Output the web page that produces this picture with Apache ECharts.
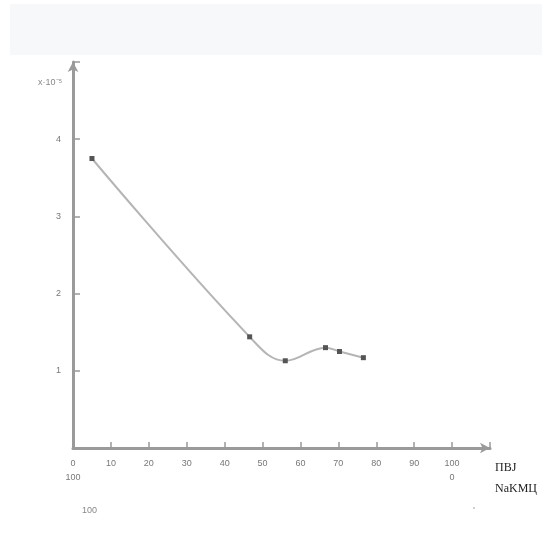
<!DOCTYPE html>
<html><head><meta charset="utf-8">
<script src="https://cdn.jsdelivr.net/npm/echarts@6/dist/echarts.min.js"></script>
<style>html,body{margin:0;padding:0;background:#fff}#c{width:542px;height:538px}</style>
</head><body><div id="c"></div>
<script>
const xValues = [5, 46.6, 56, 66.6, 70.3, 76.6];
const yValues = [3.75, 1.44, 1.13, 1.30, 1.25, 1.17];
const xTickLabels = {0: '0\n100', 10: '10', 20: '20', 30: '30', 40: '40', 50: '50', 60: '60', 70: '70', 80: '80', 90: '90', 100: '100\n0'};
const yTickLabels = {1: '1', 2: '2', 3: '3', 4: '4'};

const chart = echarts.init(document.getElementById('c'));
chart.setOption({
  animation: false,
  backgroundColor: '#fff',
  grid: {left: 73, right: 52, top: 62, bottom: 90},
  xAxis: {
    type: 'value', min: 0, max: 110, interval: 10,
    splitLine: {show: false},
    axisLine: {lineStyle: {color: '#9a9a9a', width: 3}, symbol: ['none', 'arrow'], symbolSize: [8, 10]},
    axisTick: {inside: true, length: 6, lineStyle: {color: '#999', width: 1.5}},
    axisLabel: {margin: 9, color: '#777', fontSize: 9, fontFamily: 'Liberation Sans', lineHeight: 14,
      formatter: v => xTickLabels[v] !== undefined ? xTickLabels[v] : ''}
  },
  yAxis: {
    type: 'value', min: 0, max: 5, interval: 1,
    splitLine: {show: false},
    axisLine: {lineStyle: {color: '#9a9a9a', width: 3}, symbol: ['none', 'arrow'], symbolSize: [8, 10]},
    axisTick: {inside: true, length: 7, lineStyle: {color: '#999', width: 1.5}},
    axisLabel: {margin: 12, color: '#777', fontSize: 9, fontFamily: 'Liberation Sans',
      formatter: v => yTickLabels[v] !== undefined ? yTickLabels[v] : ''}
  },
  series: [{
    type: 'line',
    data: xValues.map((x, i) => [x, yValues[i]]),
    smooth: 0.4,
    symbol: 'rect', symbolSize: 5,
    itemStyle: {color: '#555'},
    lineStyle: {color: '#b5b5b5', width: 2}
  }],
  graphic: [
    {type: 'rect', left: 10, top: 4, shape: {width: 532, height: 51}, style: {fill: '#f7f8fa'}},
    {type: 'text', left: 38, top: 78, style: {text: 'x·10⁻⁵', fill: '#888', font: '9px Liberation Sans'}},
    {type: 'text', left: 82, top: 506, style: {text: '100', fill: '#888', font: '9px Liberation Sans'}},
    {type: 'text', left: 495, top: 462, style: {text: 'ПВJ', fill: '#222', font: '12px Liberation Serif'}},
    {type: 'text', left: 495, top: 483, style: {text: 'NaKMЦ', fill: '#222', font: '12px Liberation Serif'}},
    {type: 'circle', shape: {cx: 474, cy: 508, r: 0.8}, style: {fill: '#999'}}
  ]
});
</script>
</body></html>
